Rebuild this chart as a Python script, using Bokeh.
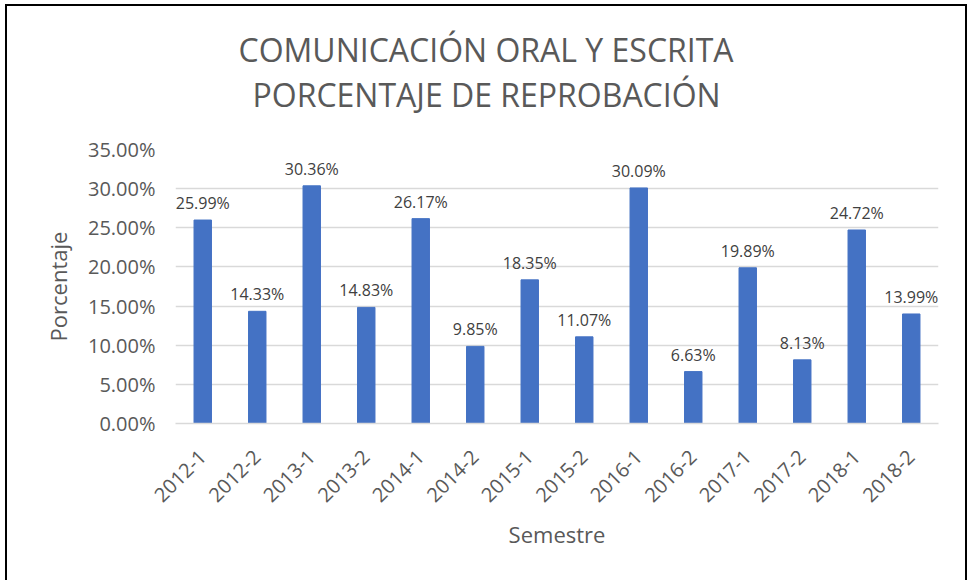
import math
from bokeh.plotting import figure
from bokeh.models import Range1d, FactorRange, PrintfTickFormatter, ColumnDataSource, Title, FixedTicker
from bokeh.core.properties import value
from bokeh.embed import file_html
from bokeh.resources import INLINE

semestres = ["2012-1", "2012-2", "2013-1", "2013-2", "2014-1", "2014-2", "2015-1",
             "2015-2", "2016-1", "2016-2", "2017-1", "2017-2", "2018-1", "2018-2"]
reprobacion = [25.99, 14.33, 30.36, 14.83, 26.17, 9.85, 18.35,
               11.07, 30.09, 6.63, 19.89, 8.13, 24.72, 13.99]
y_ticks = [0, 5, 10, 15, 20, 25, 30, 35]
title_lines = ["COMUNICACIÓN ORAL Y ESCRITA", "PORCENTAJE DE REPROBACIÓN"]

FONT = "Open Sans"
TXT = "#595959"
BAR = "#4472C4"
GRID = "#D9D9D9"

src = ColumnDataSource(dict(
    x=semestres,
    y=reprobacion,
    lbl=[f"{v:.2f}%" for v in reprobacion],
))

p = figure(width=958, height=574, x_range=FactorRange(*semestres, range_padding=0),
           y_range=Range1d(0, 35), output_backend="svg", toolbar_location=None,
           min_border_left=168, min_border_right=27, min_border_top=143, min_border_bottom=157)
p.styles = {"margin-left": "7px", "margin-top": "6px", "outline": "2px solid black"}
p.background_fill_color = "white"
p.border_fill_color = "white"
p.outline_line_color = None

p.vbar(x="x", top="y", width=0.32, source=src, color=BAR)
p.text(x="x", y="y", text="lbl", source=src, text_align="center", text_baseline="alphabetic",
       y_offset=-17, text_font=value(FONT), text_font_size="16px", text_color="#404040")

# axes
p.yaxis.ticker = FixedTicker(ticks=y_ticks)
p.yaxis.formatter = PrintfTickFormatter(format="%.2f%%")
p.yaxis.axis_line_color = None
p.yaxis.major_tick_line_color = None
p.yaxis.minor_tick_line_color = None
p.yaxis.major_tick_out = 0
p.yaxis.major_label_standoff = 20
p.yaxis.major_label_text_font = FONT
p.yaxis.major_label_text_font_size = "20px"
p.yaxis.major_label_text_color = TXT
p.yaxis.axis_label = "Porcentaje"
p.yaxis.axis_label_standoff = 12
p.yaxis.axis_label_text_font = FONT
p.yaxis.axis_label_text_font_size = "22px"
p.yaxis.axis_label_text_font_style = "normal"
p.yaxis.axis_label_text_color = TXT

p.xaxis.axis_line_color = GRID
p.xaxis.axis_line_width = 1.5
p.xaxis.major_tick_line_color = None
p.xaxis.minor_tick_line_color = None
p.xaxis.major_tick_out = 0
p.xaxis.major_label_orientation = math.pi / 4
p.xaxis.major_label_standoff = 30
p.xaxis.major_label_text_font = FONT
p.xaxis.major_label_text_font_size = "20px"
p.xaxis.major_label_text_color = TXT
p.xaxis.axis_label = "Semestre"
p.xaxis.axis_label_standoff = 8
p.xaxis.axis_label_text_font = FONT
p.xaxis.axis_label_text_font_size = "22px"
p.xaxis.axis_label_text_font_style = "normal"
p.xaxis.axis_label_text_color = TXT

p.xgrid.grid_line_color = None
p.ygrid.grid_line_color = GRID
p.ygrid.grid_line_width = 1.5

# two-line title, each line placed so it is centred over the whole chart
# (titles stack outward from the plot: spacer, second line, first line)
p.title.text = title_lines[0]
p.title.align = "left"
p.title.offset = 63
p.title.standoff = 0
p.title.text_font = FONT
p.title.text_font_size = "32px"
p.title.text_font_style = "normal"
p.title.text_color = TXT
p.add_layout(Title(text=" ", standoff=30, text_font_size="2px"), "above")
p.add_layout(Title(text=title_lines[1], align="left", offset=77, standoff=0, text_font=FONT,
                   text_font_size="32px", text_font_style="normal", text_color=TXT), "above")

open("out.html", "w").write(file_html(p, INLINE))
